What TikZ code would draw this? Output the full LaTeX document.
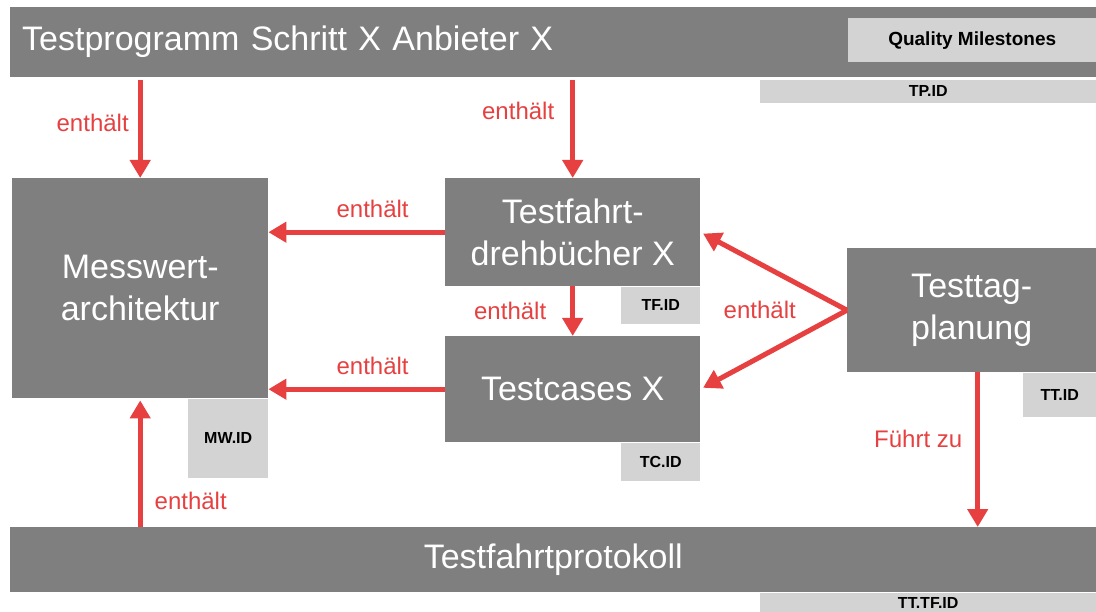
\documentclass[tikz,border=0pt]{standalone}
\usepackage{fontspec}
\setmainfont{Liberation Sans}
\usetikzlibrary{positioning,arrows.meta}
\definecolor{boxgray}{RGB}{127,127,127}
\definecolor{idgray}{RGB}{211,211,211}
\definecolor{relred}{RGB}{230,64,64}

\begin{document}
\begin{tikzpicture}[x=1pt,y=-1pt,
    box/.style={rectangle,fill=boxgray,text=white,inner sep=0pt,anchor=north west,align=center,font=\fontsize{34}{42}\selectfont},
    idbox/.style={rectangle,fill=idgray,inner sep=0pt,font=\bfseries\fontsize{16}{19}\selectfont},
    rel/.style={draw=relred,line width=5pt,-{Triangle[length=18pt,width=20pt]}},
    lab/.style={text=relred,inner sep=0pt,font=\fontsize{24}{28}\selectfont}]
     \useasboundingbox (0,0) rectangle (1096,612);
     \node[box,minimum width=1086pt,minimum height=70pt,text width=1062pt,align=left,inner xsep=12pt] (prog) at (10,7) {Testprogramm Schritt X Anbieter X};
     \node[idbox,anchor=north west,minimum width=248pt,minimum height=44pt,font=\bfseries\fontsize{19}{23}\selectfont] (qm) at (848,18) {Quality Milestones};
     \node[idbox,below left=2pt and 0pt of prog.south east,minimum width=336pt,minimum height=23pt] (tpid) {TP.ID};
     \node[box,minimum width=256pt,minimum height=220pt] (mess) at (12,178) {Messwert-\\architektur};
     \node[idbox,below left=0pt and 0pt of mess.south east,minimum width=80pt,minimum height=79pt] (mwid) {MW.ID};
     \node[box,minimum width=255pt,minimum height=108pt] (drehb) at (445,178) {Testfahrt-\\drehbücher X};
     \node[idbox,below left=0pt and 0pt of drehb.south east,minimum width=79pt,minimum height=37pt] (tfid) {TF.ID};
     \node[box,minimum width=255pt,minimum height=106pt] (cases) at (445,336) {Testcases X};
     \node[idbox,below left=0pt and 0pt of cases.south east,minimum width=79pt,minimum height=38pt] (tcid) {TC.ID};
     \node[box,minimum width=249pt,minimum height=124pt,text depth=6pt] (tag) at (847,248) {Testtag-\\planung};
     \node[idbox,below left=0pt and 0pt of tag.south east,minimum width=73pt,minimum height=44pt] (ttid) {TT.ID};
     \node[box,minimum width=1086pt,minimum height=65pt] (proto) at (10,527) {Testfahrtprotokoll};
     \node[idbox,below left=0pt and 0pt of proto.south east,minimum width=336pt,minimum height=20pt] (tttfid) {TT.TF.ID};
     \draw[rel,shorten <=3pt] (mess.north |- prog.south) -- node[lab,left=9pt,pos=0.45] {enthält} (mess.north);
     \draw[rel,shorten <=3pt] (drehb.north |- prog.south) -- node[lab,left=16pt,pos=0.33] {enthält} (drehb.north);
     \draw[rel] (drehb.west) -- node[lab,above=12pt,pos=0.41] {enthält} (drehb.west -| mess.east);
     \draw[rel] (drehb.south) -- node[lab,left=24pt] {enthält} (cases.north);
     \draw[rel] (cases.west) -- node[lab,above=12pt,pos=0.41] {enthält} (cases.west -| mess.east);
     \draw[rel,shorten >=3pt] (tag.west) -- (drehb.east);
     \draw[rel,shorten >=3pt] (tag.west) -- (cases.east);
     \node[lab,left=51pt of tag.west] (tagrel) {enthält};
     \draw[rel,shorten >=2pt] (mess.south |- proto.north) -- node[lab,right=12pt,pos=0.2] {enthält} (mess.south);
     \draw[rel] ([xshift=6pt]tag.south) -- node[lab,left=13pt,pos=0.43] {Führt zu} ([xshift=6pt]tag.south |- proto.north);
\end{tikzpicture}
\end{document}
